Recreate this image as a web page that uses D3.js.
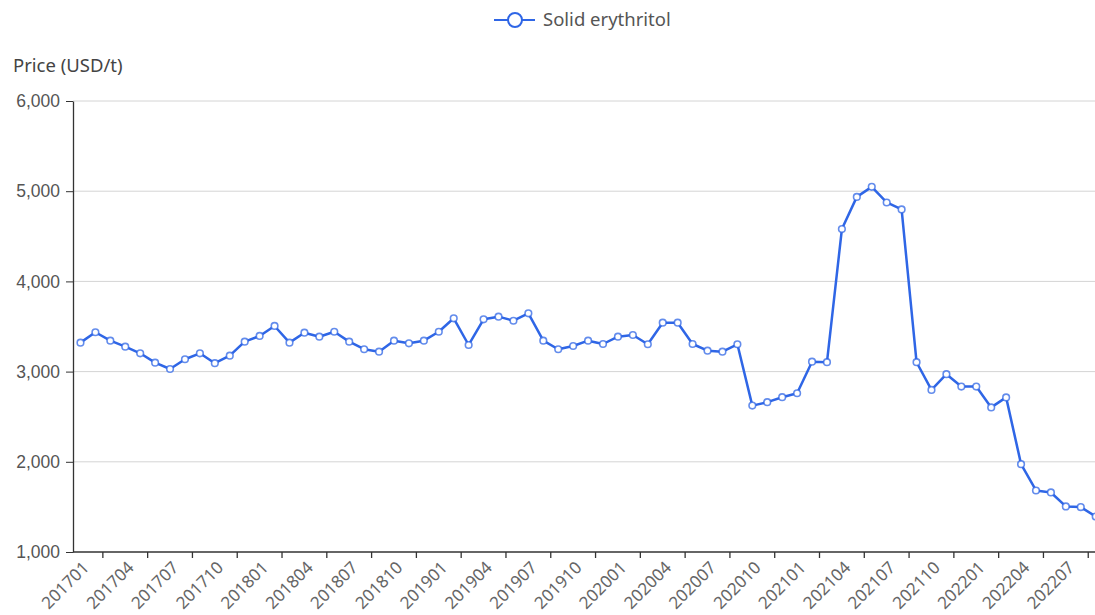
<!DOCTYPE html>
<html><head><meta charset="utf-8">
<script src="https://cdn.jsdelivr.net/npm/d3@7"></script>
<style>
html,body{margin:0;padding:0;background:#fff;overflow:hidden;}
svg{display:block;font-family:"Noto Sans","Open Sans",sans-serif;}
</style></head>
<body><svg id="c" width="1095" height="615"></svg>
<script>
const months = [];
for (let yr = 2017; yr <= 2022; yr++) for (let m = 1; m <= 12; m++) {
  if (yr === 2022 && m > 9) break;
  months.push(String(yr) + String(m).padStart(2, "0"));
}
const seriesName = "Solid erythritol";
const values = [
  3321, 3436, 3343, 3276, 3203, 3099, 3029, 3137, 3203, 3093, 3177, 3332,
  3395, 3506, 3321, 3431, 3387, 3442, 3332, 3248, 3221, 3343, 3314, 3343,
  3442, 3591, 3295, 3580, 3609, 3564, 3646, 3343, 3248, 3284, 3343, 3306,
  3387, 3406, 3303, 3542, 3542, 3306, 3232, 3221, 3303, 2623, 2661, 2716,
  2760, 3110, 3104, 4580, 4937, 5048, 4875, 4798, 3104, 2797, 2971, 2834,
  2834, 2603, 2714, 1974, 1682, 1660, 1505, 1498, 1394
];
const yTicks = [1000, 2000, 3000, 4000, 5000, 6000];
const yTitle = "Price (USD/t)";

(function () {
const svg = d3.select("#c");
const mLeft = 73, mTop = 101, mBottom = 552;
const band = 14.93;
const mRight = mLeft + band * months.length;
const color = "#2f66e6";

const x = d3.scaleBand().domain(months).range([mLeft, mRight]).paddingInner(0).paddingOuter(0);
const y = d3.scaleLinear().domain([1000, 6000]).range([mBottom, mTop]);

// grid
svg.append("g").selectAll("line").data(yTicks.slice(1)).join("line")
  .attr("x1", mLeft).attr("x2", mRight)
  .attr("y1", d => y(d)).attr("y2", d => y(d))
  .attr("stroke", "#d4d4d4").attr("stroke-width", 1);

// y axis
const yAxis = svg.append("g").attr("transform", `translate(${mLeft},0)`)
  .call(d3.axisLeft(y).tickValues(yTicks).tickFormat(d3.format(",")).tickSize(7).tickSizeOuter(0).tickPadding(6));
yAxis.select(".domain").attr("stroke", "#333").attr("stroke-width", 1.3);
yAxis.selectAll(".tick line").attr("stroke", "#333");
yAxis.selectAll(".tick text").attr("fill", "#555").style("font-size", "17.5px");

svg.append("text").attr("x", 13).attr("y", 72).text(yTitle)
  .attr("fill", "#444").style("font-size", "18.5px");

// x axis
const tickCats = months.filter((d, i) => i % 3 === 2);
const xg = svg.append("g").attr("transform", `translate(0,${mBottom})`);
xg.append("line").attr("x1", mLeft).attr("x2", mRight).attr("stroke", "#333").attr("stroke-width", 1.5);
xg.selectAll("line.tk").data(tickCats).join("line").attr("class", "tk")
  .attr("x1", d => x(d)).attr("x2", d => x(d)).attr("y1", 0).attr("y2", 6)
  .attr("stroke", "#333").attr("stroke-width", 1.3);
const labelCats = months.filter((d, i) => i % 3 === 0);
xg.selectAll("text").data(labelCats).join("text")
  .attr("transform", d => `translate(${x(d) + band / 2 + 1},8) rotate(-45)`)
  .attr("text-anchor", "end").attr("dy", "0.72em")
  .attr("fill", "#666").style("font-size", "17px")
  .text(d => d);

// line
const cx = i => x(months[i]) + band / 2;
const line = d3.line().x((d, i) => cx(i)).y(d => y(d));
svg.append("path").datum(values).attr("d", line)
  .attr("fill", "none").attr("stroke", color).attr("stroke-width", 2.5).attr("stroke-linejoin", "round");
svg.append("g").selectAll("circle").data(values).join("circle")
  .attr("cx", (d, i) => cx(i)).attr("cy", d => y(d)).attr("r", 3.3)
  .attr("fill", "#fff").attr("stroke", color).attr("stroke-opacity", 0.75).attr("stroke-width", 1.6);

// legend
const lg = svg.append("g");
lg.append("line").attr("x1", 494).attr("x2", 535).attr("y1", 20).attr("y2", 20)
  .attr("stroke", color).attr("stroke-width", 2);
lg.append("circle").attr("cx", 515).attr("cy", 20).attr("r", 7)
  .attr("fill", "#fff").attr("stroke", color).attr("stroke-width", 2);
lg.append("text").attr("x", 543).attr("y", 26).text(seriesName)
  .attr("fill", "#555").style("font-size", "18.5px");
})();
</script></body></html>
